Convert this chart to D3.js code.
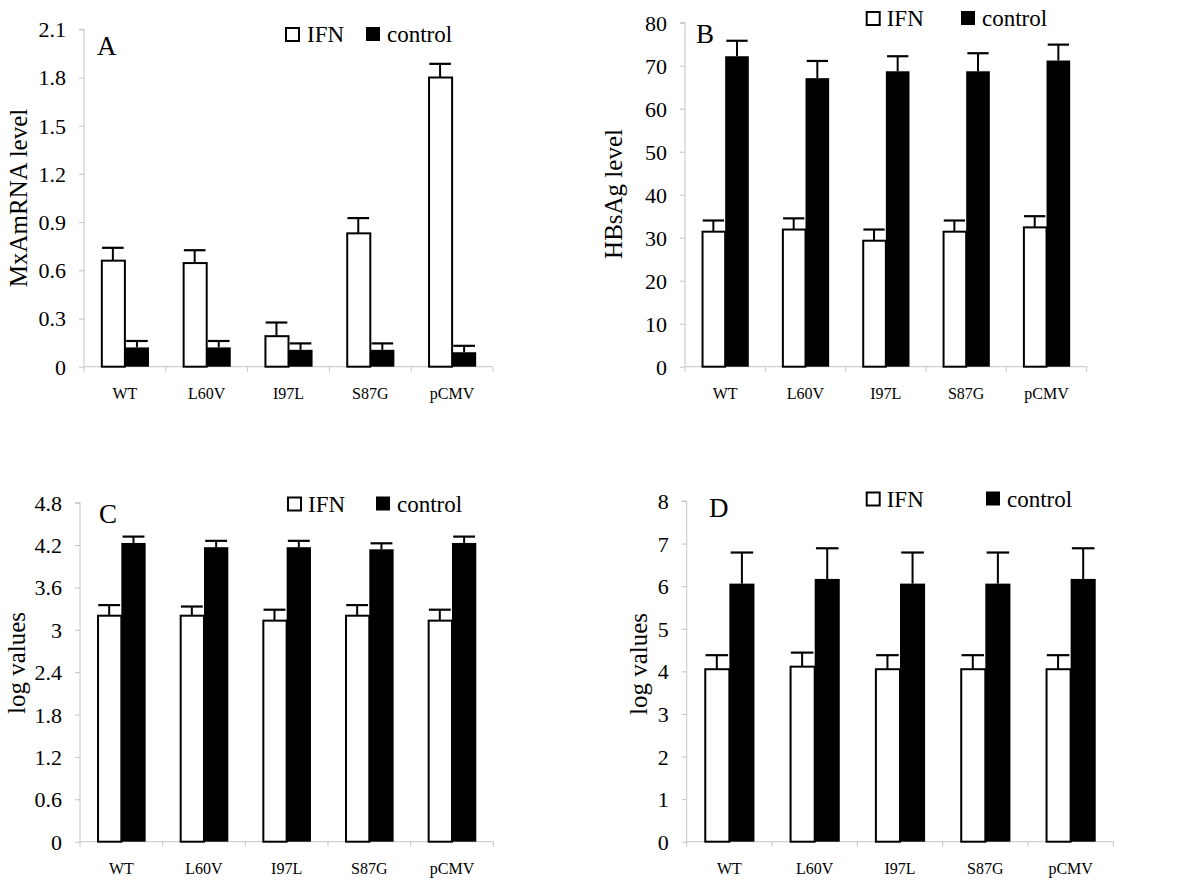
<!DOCTYPE html>
<html>
<head>
<meta charset="utf-8">
<script src="https://cdn.jsdelivr.net/npm/d3@7"></script>
<style>
html,body{margin:0;padding:0;background:#fff;}
svg{display:block;font-family:"Liberation Serif","Times New Roman",serif;}
</style>
</head>
<body>
<svg id="chart" width="1200" height="888"></svg>
<script>
// ---- data ----
const categories = ["WT", "L60V", "I97L", "S87G", "pCMV"];
const seriesNames = ["IFN", "control"];

const mxaIFN = [0.66, 0.645, 0.19, 0.83, 1.80];
const mxaIFNErr = [0.08, 0.08, 0.085, 0.095, 0.085];
const mxaCtrl = [0.12, 0.12, 0.105, 0.105, 0.09];
const mxaCtrlErr = [0.04, 0.04, 0.04, 0.04, 0.04];
const mxaTicks = [0, 0.3, 0.6, 0.9, 1.2, 1.5, 1.8, 2.1];
const mxaTickLabels = ["0", "0.3", "0.6", "0.9", "1.2", "1.5", "1.8", "2.1"];

const hbsIFN = [31.4, 31.9, 29.3, 31.4, 32.4];
const hbsIFNErr = [2.6, 2.6, 2.6, 2.6, 2.6];
const hbsCtrl = [72.2, 67.1, 68.7, 68.7, 71.2];
const hbsCtrlErr = [3.6, 4.0, 3.5, 4.2, 3.7];
const hbsTicks = [0, 10, 20, 30, 40, 50, 60, 70, 80];
const hbsTickLabels = ["0", "10", "20", "30", "40", "50", "60", "70", "80"];

const logCIFN = [3.2, 3.2, 3.13, 3.2, 3.13];
const logCIFNErr = [0.15, 0.13, 0.155, 0.15, 0.155];
const logCCtrl = [4.23, 4.17, 4.17, 4.14, 4.23];
const logCCtrlErr = [0.09, 0.09, 0.09, 0.085, 0.09];
const logCTicks = [0, 0.6, 1.2, 1.8, 2.4, 3, 3.6, 4.2, 4.8];
const logCTickLabels = ["0", "0.6", "1.2", "1.8", "2.4", "3", "3.6", "4.2", "4.8"];

const logDIFN = [4.05, 4.11, 4.05, 4.05, 4.05];
const logDIFNErr = [0.33, 0.33, 0.33, 0.33, 0.33];
const logDCtrl = [6.06, 6.17, 6.06, 6.06, 6.17];
const logDCtrlErr = [0.73, 0.72, 0.73, 0.73, 0.72];
const logDTicks = [0, 1, 2, 3, 4, 5, 6, 7, 8];
const logDTickLabels = ["0", "1", "2", "3", "4", "5", "6", "7", "8"];

// ---- layout ----
const panels = [
  {letter: "A", ylabel: "MxAmRNA level", ifn: mxaIFN, ifnErr: mxaIFNErr, ctrl: mxaCtrl, ctrlErr: mxaCtrlErr,
   ticks: mxaTicks, tickLabels: mxaTickLabels,
   x0: 84, x1: 493, yTop: 29.3, y0: 366.7, ylabX: 26.5, ylabY: 198,
   letterX: 97, letterY: 55, leg: {b1: 286, t1: 307, b2: 366, t2: 387, base: 42}},
  {letter: "B", ylabel: "HBsAg level", ifn: hbsIFN, ifnErr: hbsIFNErr, ctrl: hbsCtrl, ctrlErr: hbsCtrlErr,
   ticks: hbsTicks, tickLabels: hbsTickLabels,
   x0: 685, x1: 1086.7, yTop: 22.7, y0: 366.7, ylabX: 622, ylabY: 194,
   letterX: 696, letterY: 43, leg: {b1: 866.7, t1: 886.7, b2: 961, t2: 982, base: 26}},
  {letter: "C", ylabel: "log values", ifn: logCIFN, ifnErr: logCIFNErr, ctrl: logCCtrl, ctrlErr: logCCtrlErr,
   ticks: logCTicks, tickLabels: logCTickLabels,
   x0: 80, x1: 493.3, yTop: 502.7, y0: 841.7, ylabX: 25, ylabY: 663,
   letterX: 99, letterY: 523, leg: {b1: 288, t1: 308, b2: 376, t2: 397, base: 511.5}},
  {letter: "D", ylabel: "log values", ifn: logDIFN, ifnErr: logDIFNErr, ctrl: logDCtrl, ctrlErr: logDCtrlErr,
   ticks: logDTicks, tickLabels: logDTickLabels,
   x0: 686.7, x1: 1113.3, yTop: 501, y0: 841.7, ylabX: 646.5, ylabY: 664,
   letterX: 709, letterY: 516.7, leg: {b1: 866.7, t1: 886.7, b2: 986, t2: 1007, base: 506.5}}
];

const svg = d3.select("#chart");
const axisColor = "#c4c4c4";
const serif = '"Liberation Serif", "Times New Roman", serif';

panels.forEach(p => {
  const g = svg.append("g");
  const maxV = p.ticks[p.ticks.length - 1];
  const y = d3.scaleLinear().domain([0, maxV]).range([p.y0, p.yTop]);
  const x = d3.scaleBand().domain(categories).range([p.x0, p.x1]).padding(0);
  const inner = d3.scaleBand().domain(seriesNames).range([0, x.bandwidth()]).paddingOuter(0.7).paddingInner(0);

  // y axis
  const yAxis = d3.axisLeft(y).tickValues(p.ticks)
    .tickFormat((d, i) => p.tickLabels[i]).tickSize(5).tickPadding(13);
  const ya = g.append("g").attr("transform", `translate(${p.x0},0)`).call(yAxis)
    .attr("font-family", null);
  ya.select(".domain").attr("stroke", axisColor).attr("d", `M-5,${p.yTop}H0V${p.y0}`);
  ya.selectAll(".tick line").attr("stroke", axisColor);
  ya.selectAll(".tick text").style("font-family", serif)
    .attr("font-size", 22).attr("fill", "#000").attr("dy", "0.34em");

  // x axis
  const xa = g.append("g").attr("transform", `translate(0,${p.y0})`);
  xa.append("line").attr("x1", p.x0).attr("x2", p.x1).attr("stroke", axisColor);
  const edges = categories.map(c => x(c)).concat([p.x1]);
  xa.selectAll("line.xt").data(edges).enter().append("line").attr("class", "xt")
    .attr("x1", d => d).attr("x2", d => d).attr("y1", 0).attr("y2", 5).attr("stroke", axisColor);
  xa.selectAll("text").data(categories).enter().append("text")
    .attr("x", d => x(d) + x.bandwidth() / 2).attr("y", 32)
    .attr("text-anchor", "middle").attr("font-size", 16).text(d => d);

  // bars
  const rows = categories.map((c, i) => ({c, i}));
  const seriesDefs = [
    {name: "IFN", vals: p.ifn, errs: p.ifnErr, fill: "#fff"},
    {name: "control", vals: p.ctrl, errs: p.ctrlErr, fill: "#000"}
  ];
  const bw = inner.bandwidth();
  seriesDefs.forEach(s => {
    rows.forEach(r => {
      const cx = x(r.c) + inner(s.name) + bw / 2;
      const top = y(s.vals[r.i] + s.errs[r.i]);
      g.append("line").attr("x1", cx).attr("x2", cx)
        .attr("y1", y(s.vals[r.i])).attr("y2", top).attr("stroke", "#000").attr("stroke-width", 2);
      g.append("line").attr("x1", cx - bw * 0.45).attr("x2", cx + bw * 0.45)
        .attr("y1", top).attr("y2", top).attr("stroke", "#000").attr("stroke-width", 2.2);
    });
  });
  seriesDefs.forEach(s => {
    g.selectAll(null).data(rows).enter().append("rect")
      .attr("x", r => x(r.c) + inner(s.name) + (s.name === "IFN" ? 1 : 0))
      .attr("y", r => y(s.vals[r.i]))
      .attr("width", s.name === "IFN" ? bw - 1 : bw)
      .attr("height", r => p.y0 - y(s.vals[r.i]))
      .attr("fill", s.fill)
      .attr("stroke", "#000").attr("stroke-width", s.name === "IFN" ? 2 : 0);
  });

  // y label
  g.append("text").attr("transform", `translate(${p.ylabX},${p.ylabY}) rotate(-90)`)
    .attr("text-anchor", "middle").attr("font-size", 25).text(p.ylabel);

  // panel letter
  g.append("text").attr("x", p.letterX).attr("y", p.letterY).attr("font-size", 27).text(p.letter);

  // legend
  const L = p.leg;
  g.append("rect").attr("x", L.b1).attr("y", L.base - 14).attr("width", 13).attr("height", 13)
    .attr("fill", "#fff").attr("stroke", "#000").attr("stroke-width", 2);
  g.append("text").attr("x", L.t1).attr("y", L.base).attr("font-size", 23).text(seriesNames[0]);
  g.append("rect").attr("x", L.b2).attr("y", L.base - 15).attr("width", 14).attr("height", 14)
    .attr("fill", "#000");
  g.append("text").attr("x", L.t2).attr("y", L.base).attr("font-size", 23).text(seriesNames[1]);
});

svg.selectAll("text").style("font-family", serif);
</script>
</body>
</html>
